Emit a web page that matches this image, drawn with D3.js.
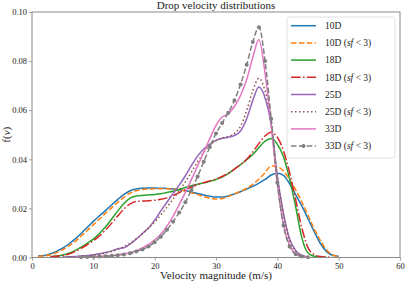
<!DOCTYPE html>
<html><head><meta charset="utf-8">
<script src="https://cdn.jsdelivr.net/npm/d3@7"></script>
<style>
html,body{margin:0;padding:0;background:#fff;}
svg{display:block;font-family:"Liberation Serif","DejaVu Serif",serif;}
</style></head>
<body><svg id="c" width="407" height="283"></svg>
<script>
// velocity grid (m/s)
const velocity = d3.range(0, 51);
const xTicks = [0, 10, 20, 30, 40, 50, 60];
const yTicks = [0, 0.02, 0.04, 0.06, 0.08, 0.10];
const seriesNames = ["10D", "10D (sf < 3)", "18D", "18D (sf < 3)", "25D", "25D (sf < 3)", "33D", "33D (sf < 3)"];

const n = null;
const d10 = [n,
 0.0007,0.0008,0.0015,0.0025,0.0038,0.0055,0.0075,0.0098,0.0122,0.0147,
 0.017,0.0192,0.0215,0.0237,0.0257,0.0272,0.0279,0.0282,0.0283,0.0283,
 0.0282,0.0281,0.0279,0.0276,0.0272,0.0267,0.0261,0.0255,0.025,0.0246,
 0.0246,0.0251,0.0259,0.0268,0.0279,0.029,0.0303,0.0318,0.0336,0.0343,
 0.0335,0.030,0.0255,0.021,0.0158,0.0106,0.0058,0.0025,0.0009,0.0005];
const d10sf = [n,
 0.0005,0.0006,0.0011,0.002,0.0032,0.0047,0.0065,0.0087,0.011,0.0133,
 0.0157,0.018,0.0203,0.0225,0.0245,0.0262,0.0272,0.0277,0.0279,0.028,
 0.028,0.028,0.0279,0.0276,0.0271,0.0264,0.0256,0.0248,0.0242,0.0238,
 0.024,0.0248,0.0259,0.027,0.0282,0.0298,0.032,0.0345,0.0373,0.037,
 0.0352,0.0318,0.0275,0.0226,0.0172,0.0118,0.007,0.0032,0.0011,0.0004];
const d18 = [n,n,n,
 0.0003,0.0006,0.001,0.0017,0.0028,0.0042,0.0058,0.0075,
 0.0098,0.0125,0.0157,0.019,0.022,0.0242,0.025,0.0253,0.0255,0.0257,
 0.026,0.0265,0.027,0.0277,0.0285,0.0292,0.0298,0.0304,0.031,0.0318,
 0.0328,0.0342,0.036,0.0378,0.0398,0.042,0.0448,0.0474,0.0485,0.0462,
 0.041,0.032,0.0205,0.008,0.0018,0.0005,0.0002,0.0001,n,n];
const d18sf = [n,n,n,
 0.0002,0.0005,0.0008,0.0014,0.0024,0.0037,0.0052,0.0068,
 0.0088,0.0112,0.014,0.017,0.0198,0.0218,0.0228,0.023,0.0231,0.0233,
 0.0237,0.0243,0.0252,0.0264,0.0276,0.0287,0.0297,0.0305,0.0312,0.032,
 0.033,0.0343,0.036,0.0378,0.04,0.043,0.0465,0.0495,0.051,0.049,
 0.0435,0.0345,0.0235,0.012,0.004,0.0012,0.0004,0.0002,0.0001,n];
const d25 = [n,n,n,n,n,
 0.0002,0.0003,0.0004,0.0006,0.0008,0.0011,
 0.0015,0.002,0.0027,0.0036,0.004,0.0055,0.0075,0.0098,0.012,0.0152,
 0.019,0.0225,0.026,0.0295,0.0333,0.0375,0.0413,0.0442,0.0462,0.0477,
 0.0486,0.049,0.0497,0.0515,0.0565,0.064,0.0694,0.065,0.054,0.033,
 0.018,0.0075,0.0028,0.0008,0.0002,n,n,n,n,n];
const d25sf = [n,n,n,n,n,
 0.0001,0.0002,0.0003,0.0005,0.0007,0.001,
 0.0013,0.0018,0.0025,0.0033,0.0044,0.0058,0.0076,0.0096,0.012,0.0145,
 0.0173,0.0205,0.0238,0.0272,0.0308,0.0348,0.039,0.0428,0.0458,0.0476,
 0.0487,0.0493,0.0505,0.0535,0.0598,0.068,0.073,0.0678,0.0555,0.033,
 0.0175,0.007,0.0025,0.0008,0.0002,n,n,n,n,n];
const d33 = [n,n,n,n,n,n,n,
 0.0001,0.0002,0.0003,0.0004,
 0.0005,0.0006,0.0008,0.0011,0.0015,0.002,0.0028,0.0039,0.0053,0.0072,
 0.0095,0.0128,0.0168,0.0215,0.0265,0.0318,0.0373,0.0428,0.0485,0.0538,
 0.0572,0.0585,0.0615,0.066,0.0725,0.0815,0.0888,0.075,0.054,0.03,
 0.0135,0.005,0.0015,0.0004,0.0001,n,n,n,n,n];
const d33sf = [n,n,n,n,n,n,n,n,
 0.0001,0.0002,0.0003,
 0.0004,0.0005,0.0007,0.0009,0.0012,0.0017,0.0024,0.0033,0.0045,0.0062,
 0.0085,0.0113,0.0146,0.0183,0.0225,0.0275,0.033,0.039,0.045,0.0505,
 0.0548,0.059,0.064,0.0705,0.0785,0.0878,0.0938,0.08,0.0565,0.0305,
 0.013,0.0045,0.0013,0.0004,0.0001,n,n,n,n,n];

const seriesValues = [d10, d10sf, d18, d18sf, d25, d25sf, d33, d33sf];
const colors = ["#1f77b4","#ff7f0e","#2ca02c","#d62728","#9467bd","#8c564b","#e377c2","#7f7f7f"];
const dashes = [null, "5.5,2.4", null, "9.6,2.4,1.5,2.4", null, "1.5,2.5", null, "5.5,2.4"];

const svg = d3.select("#c");
const L = 32, R = 400, T = 12, B = 257.5;
const x = d3.scaleLinear().domain([0, 60]).range([L, R]);
const y = d3.scaleLinear().domain([0, 0.10]).range([B, T]);
const spine = "#8a8a8a", txt = "#222";

// series
const line = d3.line().defined(d => d[1] != null).x(d => x(d[0])).y(d => y(d[1])).curve(d3.curveMonotoneX);
seriesValues.forEach((vals, i) => {
  const pts = velocity.map((v, k) => [v, vals[k] === undefined ? null : vals[k]]);
  svg.append("path").attr("d", line(pts)).attr("fill", "none")
    .attr("stroke", colors[i]).attr("stroke-width", 1.5)
    .attr("stroke-dasharray", dashes[i]);
  if (i === 7) {
    svg.append("g").selectAll("circle").data(pts.filter(p => p[1] != null)).join("circle")
      .attr("cx", p => x(p[0])).attr("cy", p => y(p[1])).attr("r", 2).attr("fill", colors[i]);
  }
});

// axes
const gx = svg.append("g").attr("transform", `translate(0,${B})`)
  .call(d3.axisBottom(x).tickValues(xTicks).tickFormat(d3.format("d")).tickSize(3).tickPadding(2));
const gy = svg.append("g").attr("transform", `translate(${L},0)`)
  .call(d3.axisLeft(y).tickValues(yTicks).tickFormat(d3.format(".2f")).tickSize(3).tickPadding(2));
[gx, gy].forEach(g => {
  g.select(".domain").remove();
  g.selectAll("line").attr("stroke", spine).attr("stroke-width", 0.8);
  g.selectAll("text").attr("fill", txt).style("font-size", "8.5px").style("font-family", "Liberation Serif, serif");
});
// frame
svg.append("rect").attr("x", L).attr("y", T).attr("width", R - L).attr("height", B - T)
  .attr("fill", "none").attr("stroke", spine).attr("stroke-width", 1);

// labels
svg.append("text").attr("x", (L + R) / 2).attr("y", 9).attr("text-anchor", "middle")
  .attr("fill", txt).style("font-size", "11px").text("Drop velocity distributions");
svg.append("text").attr("x", (L + R) / 2).attr("y", 279).attr("text-anchor", "middle")
  .attr("fill", txt).style("font-size", "11px").text("Velocity magnitude (m/s)");
const yl = svg.append("text").attr("transform", `translate(10,${(T + B) / 2}) rotate(-90)`)
  .attr("text-anchor", "middle").attr("fill", txt).style("font-size", "11px");
yl.append("tspan").text("f(");
yl.append("tspan").style("font-style", "italic").text("v");
yl.append("tspan").text(")");

// legend
const lg = svg.append("g");
lg.append("rect").attr("x", 287).attr("y", 17).attr("width", 108).attr("height", 141).attr("rx", 2.5)
  .attr("fill", "#fff").attr("fill-opacity", 0.8).attr("stroke", "#d8d8d8").attr("stroke-width", 0.8);
seriesNames.forEach((name, i) => {
  const yy = 25.7 + i * 17.2;
  lg.append("line").attr("x1", 291).attr("x2", 316).attr("y1", yy).attr("y2", yy)
    .attr("stroke", colors[i]).attr("stroke-width", 1.5).attr("stroke-dasharray", dashes[i]);
  if (i === 7) lg.append("circle").attr("cx", 303.5).attr("cy", yy).attr("r", 2).attr("fill", colors[i]);
  const t = lg.append("text").attr("x", 325).attr("y", yy + 3.3).attr("fill", txt).style("font-size", "9.5px");
  const m = name.match(/^(\S+) \(sf < 3\)$/);
  if (m) {
    t.append("tspan").text(m[1] + " (");
    t.append("tspan").style("font-style", "italic").text("sf");
    t.append("tspan").text(" < 3)");
  } else t.text(name);
});
</script></body></html>
